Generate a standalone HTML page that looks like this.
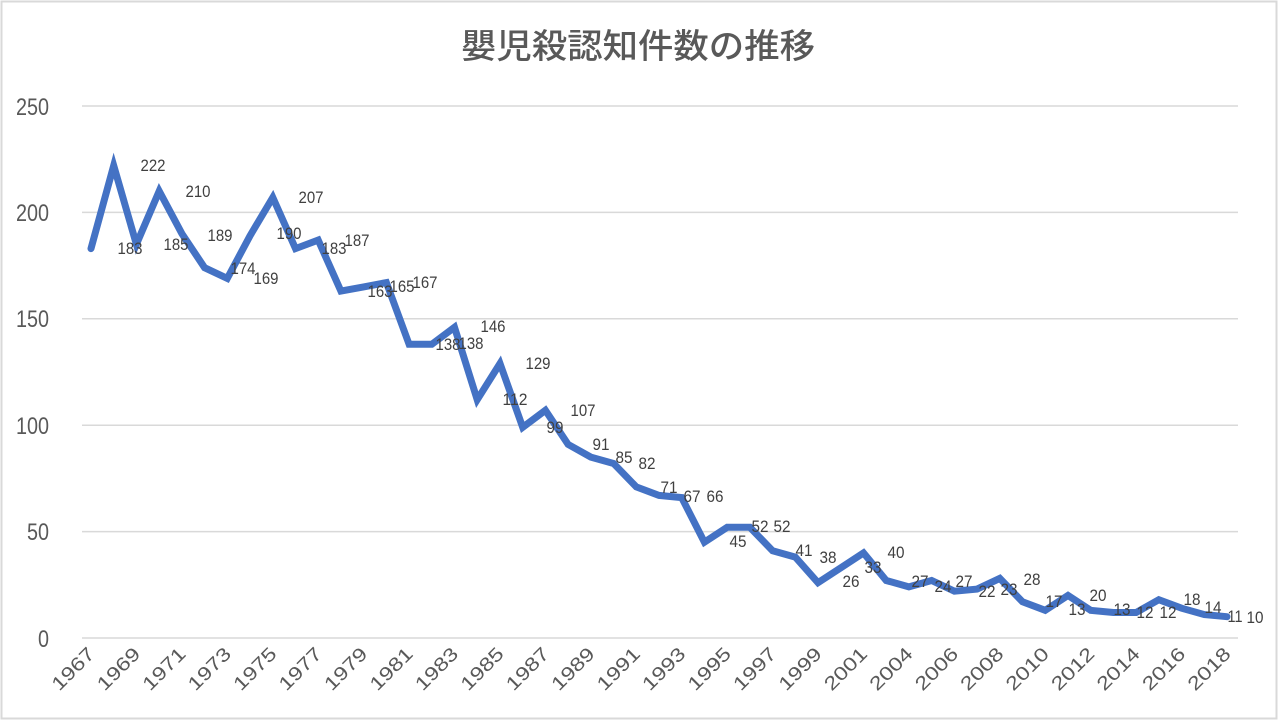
<!DOCTYPE html>
<html><head><meta charset="utf-8"><style>
body{margin:0;background:#fff}
svg{display:block}
text{font-family:"Liberation Sans","Noto Sans CJK JP",sans-serif;fill:#404040}
.y{font-size:24px;fill:#595959;text-anchor:end}
.x{font-size:19px;fill:#595959;text-anchor:end}
.d{font-size:17px;text-anchor:middle}
</style></head><body>
<svg width="1280" height="722" viewBox="0 0 1280 722">
<rect x="1.5" y="1.5" width="1275" height="717" fill="#fff" stroke="#d9d9d9" stroke-width="2"/>
<text x="638" y="58" text-anchor="middle" textLength="354" lengthAdjust="spacingAndGlyphs" style="font-family:'Noto Sans CJK JP',sans-serif;font-size:34px;fill:#595959;font-weight:500">嬰児殺認知件数の推移</text>
<g stroke="#d9d9d9" stroke-width="1.5">
<line x1="82" y1="106" x2="1238" y2="106"/><line x1="82" y1="212.4" x2="1238" y2="212.4"/><line x1="82" y1="318.8" x2="1238" y2="318.8"/><line x1="82" y1="425.2" x2="1238" y2="425.2"/><line x1="82" y1="531.6" x2="1238" y2="531.6"/><line x1="82" y1="638" x2="1238" y2="638"/>
</g>
<g class="y">
<text class="y" x="49" y="115" textLength="33" lengthAdjust="spacingAndGlyphs">250</text><text class="y" x="49" y="221" textLength="33" lengthAdjust="spacingAndGlyphs">200</text><text class="y" x="49" y="327" textLength="33" lengthAdjust="spacingAndGlyphs">150</text><text class="y" x="49" y="434" textLength="33" lengthAdjust="spacingAndGlyphs">100</text><text class="y" x="49" y="540" textLength="22" lengthAdjust="spacingAndGlyphs">50</text><text class="y" x="49" y="647" textLength="11" lengthAdjust="spacingAndGlyphs">0</text>
</g>
<polyline fill="none" stroke="#4472c4" stroke-width="7" stroke-linejoin="miter" stroke-linecap="round" points="91,248.6 113.7,165.6 136.4,244.3 159.2,191.1 181.9,233.7 204.6,267.7 227.3,278.4 250,235.8 272.8,197.5 295.5,248.6 318.2,240.1 340.9,291.1 363.6,286.9 386.4,282.6 409.1,344.3 431.8,344.3 454.5,327.3 477.2,399.7 500,363.5 522.7,427.3 545.4,410.3 568.1,444.4 590.8,457.1 613.6,463.5 636.3,486.9 659,495.4 681.7,497.6 704.4,542.2 727.2,527.3 749.9,527.3 772.6,550.8 795.3,557.1 818,582.7 840.8,567.8 863.5,552.9 886.2,580.5 908.9,586.9 931.6,580.5 954.4,591.2 977.1,589.1 999.8,578.4 1022.5,601.8 1045.2,610.3 1068,595.4 1090.7,610.3 1113.4,612.5 1136.1,612.5 1158.8,599.7 1181.6,608.2 1204.3,614.6 1227,616.7"/>
<g>
<text class="d" x="130" y="254" textLength="25" lengthAdjust="spacingAndGlyphs">183</text><text class="d" x="153" y="171" textLength="25" lengthAdjust="spacingAndGlyphs">222</text><text class="d" x="198" y="197" textLength="25" lengthAdjust="spacingAndGlyphs">210</text><text class="d" x="176" y="250" textLength="25" lengthAdjust="spacingAndGlyphs">185</text><text class="d" x="220" y="241" textLength="25" lengthAdjust="spacingAndGlyphs">189</text><text class="d" x="243" y="274" textLength="25" lengthAdjust="spacingAndGlyphs">174</text><text class="d" x="266" y="284" textLength="25" lengthAdjust="spacingAndGlyphs">169</text><text class="d" x="311" y="203" textLength="25" lengthAdjust="spacingAndGlyphs">207</text><text class="d" x="289" y="239" textLength="25" lengthAdjust="spacingAndGlyphs">190</text><text class="d" x="334" y="254" textLength="25" lengthAdjust="spacingAndGlyphs">183</text><text class="d" x="357" y="246" textLength="25" lengthAdjust="spacingAndGlyphs">187</text><text class="d" x="380" y="297" textLength="25" lengthAdjust="spacingAndGlyphs">163</text><text class="d" x="402" y="292" textLength="25" lengthAdjust="spacingAndGlyphs">165</text><text class="d" x="425" y="288" textLength="25" lengthAdjust="spacingAndGlyphs">167</text><text class="d" x="448" y="350" textLength="25" lengthAdjust="spacingAndGlyphs">138</text><text class="d" x="471" y="349" textLength="25" lengthAdjust="spacingAndGlyphs">138</text><text class="d" x="493" y="332" textLength="25" lengthAdjust="spacingAndGlyphs">146</text><text class="d" x="515" y="405" textLength="25" lengthAdjust="spacingAndGlyphs">112</text><text class="d" x="538" y="369" textLength="25" lengthAdjust="spacingAndGlyphs">129</text><text class="d" x="555" y="433" textLength="17" lengthAdjust="spacingAndGlyphs">99</text><text class="d" x="583" y="416" textLength="25" lengthAdjust="spacingAndGlyphs">107</text><text class="d" x="601" y="450" textLength="17" lengthAdjust="spacingAndGlyphs">91</text><text class="d" x="624" y="463" textLength="17" lengthAdjust="spacingAndGlyphs">85</text><text class="d" x="647" y="469" textLength="17" lengthAdjust="spacingAndGlyphs">82</text><text class="d" x="669" y="493" textLength="17" lengthAdjust="spacingAndGlyphs">71</text><text class="d" x="692" y="502" textLength="17" lengthAdjust="spacingAndGlyphs">67</text><text class="d" x="715" y="502" textLength="17" lengthAdjust="spacingAndGlyphs">66</text><text class="d" x="738" y="547" textLength="17" lengthAdjust="spacingAndGlyphs">45</text><text class="d" x="760" y="532" textLength="17" lengthAdjust="spacingAndGlyphs">52</text><text class="d" x="782" y="532" textLength="17" lengthAdjust="spacingAndGlyphs">52</text><text class="d" x="804" y="556" textLength="17" lengthAdjust="spacingAndGlyphs">41</text><text class="d" x="828" y="563" textLength="17" lengthAdjust="spacingAndGlyphs">38</text><text class="d" x="851" y="587" textLength="17" lengthAdjust="spacingAndGlyphs">26</text><text class="d" x="873" y="573" textLength="17" lengthAdjust="spacingAndGlyphs">33</text><text class="d" x="896" y="558" textLength="17" lengthAdjust="spacingAndGlyphs">40</text><text class="d" x="920" y="587" textLength="17" lengthAdjust="spacingAndGlyphs">27</text><text class="d" x="943" y="592" textLength="17" lengthAdjust="spacingAndGlyphs">24</text><text class="d" x="964" y="587" textLength="17" lengthAdjust="spacingAndGlyphs">27</text><text class="d" x="987" y="597" textLength="17" lengthAdjust="spacingAndGlyphs">22</text><text class="d" x="1009" y="595" textLength="17" lengthAdjust="spacingAndGlyphs">23</text><text class="d" x="1032" y="585" textLength="17" lengthAdjust="spacingAndGlyphs">28</text><text class="d" x="1054" y="607" textLength="17" lengthAdjust="spacingAndGlyphs">17</text><text class="d" x="1077" y="615" textLength="17" lengthAdjust="spacingAndGlyphs">13</text><text class="d" x="1098" y="601" textLength="17" lengthAdjust="spacingAndGlyphs">20</text><text class="d" x="1122" y="615" textLength="17" lengthAdjust="spacingAndGlyphs">13</text><text class="d" x="1145" y="618" textLength="17" lengthAdjust="spacingAndGlyphs">12</text><text class="d" x="1168" y="618" textLength="17" lengthAdjust="spacingAndGlyphs">12</text><text class="d" x="1192" y="605" textLength="17" lengthAdjust="spacingAndGlyphs">18</text><text class="d" x="1213" y="613" textLength="17" lengthAdjust="spacingAndGlyphs">14</text><text class="d" x="1235" y="622" textLength="15" lengthAdjust="spacingAndGlyphs">11</text><text class="d" x="1255" y="623" textLength="17" lengthAdjust="spacingAndGlyphs">10</text>
</g>
<g>
<text class="x" transform="translate(96,655) rotate(-45)" textLength="52" lengthAdjust="spacingAndGlyphs">1967</text>
<text class="x" transform="translate(141.4,655) rotate(-45)" textLength="52" lengthAdjust="spacingAndGlyphs">1969</text>
<text class="x" transform="translate(186.9,655) rotate(-45)" textLength="52" lengthAdjust="spacingAndGlyphs">1971</text>
<text class="x" transform="translate(232.3,655) rotate(-45)" textLength="52" lengthAdjust="spacingAndGlyphs">1973</text>
<text class="x" transform="translate(277.8,655) rotate(-45)" textLength="52" lengthAdjust="spacingAndGlyphs">1975</text>
<text class="x" transform="translate(323.2,655) rotate(-45)" textLength="52" lengthAdjust="spacingAndGlyphs">1977</text>
<text class="x" transform="translate(368.6,655) rotate(-45)" textLength="52" lengthAdjust="spacingAndGlyphs">1979</text>
<text class="x" transform="translate(414.1,655) rotate(-45)" textLength="52" lengthAdjust="spacingAndGlyphs">1981</text>
<text class="x" transform="translate(459.5,655) rotate(-45)" textLength="52" lengthAdjust="spacingAndGlyphs">1983</text>
<text class="x" transform="translate(505,655) rotate(-45)" textLength="52" lengthAdjust="spacingAndGlyphs">1985</text>
<text class="x" transform="translate(550.4,655) rotate(-45)" textLength="52" lengthAdjust="spacingAndGlyphs">1987</text>
<text class="x" transform="translate(595.8,655) rotate(-45)" textLength="52" lengthAdjust="spacingAndGlyphs">1989</text>
<text class="x" transform="translate(641.3,655) rotate(-45)" textLength="52" lengthAdjust="spacingAndGlyphs">1991</text>
<text class="x" transform="translate(686.7,655) rotate(-45)" textLength="52" lengthAdjust="spacingAndGlyphs">1993</text>
<text class="x" transform="translate(732.2,655) rotate(-45)" textLength="52" lengthAdjust="spacingAndGlyphs">1995</text>
<text class="x" transform="translate(777.6,655) rotate(-45)" textLength="52" lengthAdjust="spacingAndGlyphs">1997</text>
<text class="x" transform="translate(823,655) rotate(-45)" textLength="52" lengthAdjust="spacingAndGlyphs">1999</text>
<text class="x" transform="translate(868.5,655) rotate(-45)" textLength="52" lengthAdjust="spacingAndGlyphs">2001</text>
<text class="x" transform="translate(913.9,655) rotate(-45)" textLength="52" lengthAdjust="spacingAndGlyphs">2004</text>
<text class="x" transform="translate(959.4,655) rotate(-45)" textLength="52" lengthAdjust="spacingAndGlyphs">2006</text>
<text class="x" transform="translate(1004.8,655) rotate(-45)" textLength="52" lengthAdjust="spacingAndGlyphs">2008</text>
<text class="x" transform="translate(1050.2,655) rotate(-45)" textLength="52" lengthAdjust="spacingAndGlyphs">2010</text>
<text class="x" transform="translate(1095.7,655) rotate(-45)" textLength="52" lengthAdjust="spacingAndGlyphs">2012</text>
<text class="x" transform="translate(1141.1,655) rotate(-45)" textLength="52" lengthAdjust="spacingAndGlyphs">2014</text>
<text class="x" transform="translate(1186.6,655) rotate(-45)" textLength="52" lengthAdjust="spacingAndGlyphs">2016</text>
<text class="x" transform="translate(1232,655) rotate(-45)" textLength="52" lengthAdjust="spacingAndGlyphs">2018</text>
</g>
</svg>
</body></html>
